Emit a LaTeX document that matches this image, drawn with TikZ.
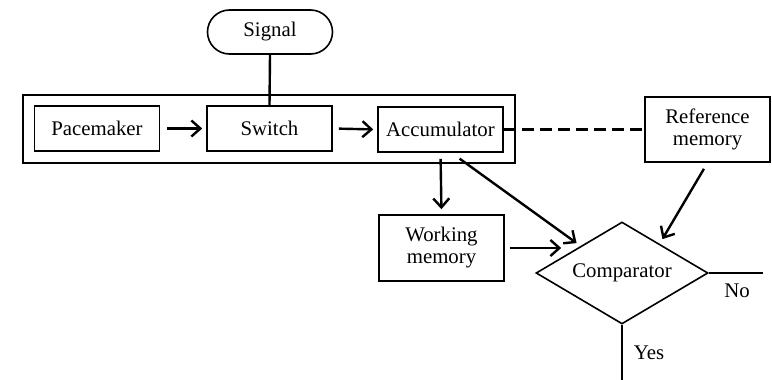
\documentclass[tikz,border=0pt]{standalone}
\usepackage{fontspec}
\setmainfont{Liberation Serif}
\usepackage{tikz}
\usetikzlibrary{shapes,arrows.meta}

\begin{document}
\begin{tikzpicture}[x=0.5pt, y=-0.5pt,
        font=\fontsize{10.4}{11}\selectfont,
        box/.style = {draw, line width=0.8pt, inner sep=0pt, minimum height=22.5pt, minimum width=62.5pt},
        arrow/.style = {line width=1.2pt, -{Straight Barb[length=4.5pt,width=8pt]}},
        plain/.style = {line width=1.2pt}
        ]
    \useasboundingbox (0,0) rectangle (772,380);

    % clock stage
    \draw[line width=0.8pt] (23,95) rectangle (515,163);
    \node[box] (pace)   at (97,128.5)  {Pacemaker};
    \node[box] (switch) at (269.5,128.5) {Switch};
    \node[box] (accum)  at (440.5,129.5) {Accumulator};
    \node[box, rounded corners=11pt, minimum height=22pt] (signal) at (270,32) {Signal};

    % memories and decision
    \node[box, minimum height=33pt, align=center] (work) at (441.5,248) {Working\\memory};
    \node[box, minimum height=32.5pt, align=center] (refm) at (707.5,129.5) {Reference\\memory};
    \node[draw, line width=0.8pt, diamond, aspect=1.69, inner sep=0pt, minimum width=86pt, minimum height=51pt] (comp) at (622,273) {Comparator};

    \coordinate (no)  at (763,273);
    \coordinate (yes) at (622,380);

    \draw[plain] (signal.south) -- (switch.north);
    \draw[arrow, shorten <=3.5pt, shorten >=2pt] (pace.east) -- (switch.west);
    \draw[arrow, shorten <=3pt, shorten >=2pt] (switch.east) -- (accum.west);
    \draw[line width=1.2pt, dash pattern=on 6pt off 3pt] (accum.east) -- (refm.west);

    \draw[arrow, shorten <=3pt, shorten >=2.5pt] (accum.south) -- (work.north);
    \draw[arrow, shorten <=5pt] ([xshift=5.5pt]accum.south) -- ([shift={(-2,-4)}]comp.north west);
    \draw[arrow, shorten <=3.5pt] (refm.south) -- ([shift={(-3,-8)}]comp.north east);
    \draw[arrow, shorten <=2.5pt] (work.east) -- ([xshift=13pt]comp.west |- work.east);

    \draw[plain] (comp.east) -- (no);
    \draw[plain] (comp.south) -- (yes);
    \node (nolabel)  at (737,291) {No};
    \node (yeslabel) at (649,353) {Yes};
\end{tikzpicture}
\end{document}
